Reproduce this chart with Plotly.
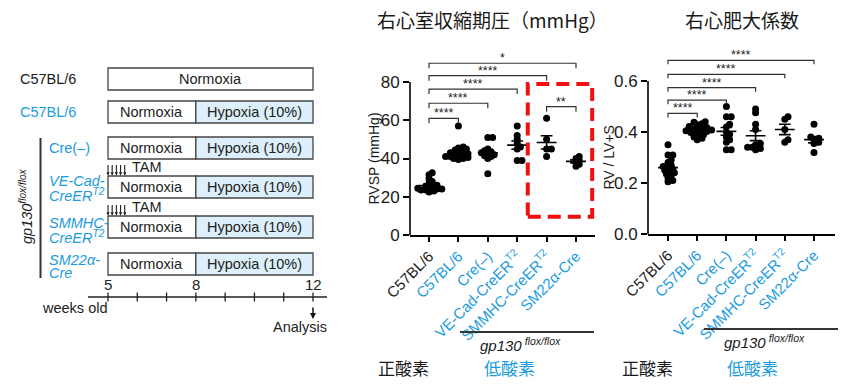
import numpy as np
import plotly.graph_objects as go

W, H = 853, 390
BLUE = "#1A9BE0"
INK = "#1a1a1a"
HYP_FILL = "#DCEFFA"
FONT = "Arial, 'Liberation Sans', sans-serif"
CJK = "'Noto Sans CJK JP', sans-serif"

# ---------------- data ----------------
group_labels = ["C57BL/6", "C57BL/6", "Cre(–)", "VE-Cad-CreER<sup>T2</sup>",
                "SMMHC-CreER<sup>T2</sup>", "SM22α-Cre"]
group_is_hypoxia = [False, True, True, True, True, True]

rvsp_c57_norm = [32.5, 31.5, 29.5, 28, 27, 26, 25.5, 25, 24.5, 24, 24, 23.5, 23.5,
                 23, 22.5, 24.5]
rvsp_c57_hyp = [57, 46, 45.5, 45, 44.5, 44, 43.5, 43, 42.5, 42, 42, 41.5, 41, 41,
                40.5, 40, 40, 39.5]
rvsp_cre_neg = [51, 51, 45, 44, 43.5, 43, 42.5, 42, 41.5, 41, 40, 32]
rvsp_vecad = [57, 52, 50, 48, 46, 45, 39, 39]
rvsp_smmhc = [61, 50, 45, 45, 41]
rvsp_sm22 = [41, 40, 39, 38, 37, 36]

rvlv_c57_norm = [0.35, 0.31, 0.31, 0.29, 0.28, 0.27, 0.265, 0.26, 0.255, 0.25, 0.245,
                 0.24, 0.235, 0.23, 0.22, 0.21, 0.205]
rvlv_c57_hyp = [0.44, 0.438, 0.432, 0.428, 0.422, 0.418, 0.415, 0.412, 0.41, 0.408,
                0.405, 0.402, 0.40, 0.398, 0.395, 0.39, 0.385, 0.38, 0.375, 0.37]
rvlv_cre_neg = [0.50, 0.46, 0.46, 0.43, 0.42, 0.40, 0.39, 0.38, 0.37, 0.36, 0.33, 0.33]
rvlv_vecad = [0.49, 0.475, 0.43, 0.41, 0.355, 0.35, 0.34, 0.335, 0.33, 0.34]
rvlv_smmhc = [0.46, 0.45, 0.41, 0.37, 0.36]
rvlv_sm22 = [0.43, 0.38, 0.375, 0.37, 0.36, 0.355, 0.32]

# significance comparisons: (group a, group b, label)
rvsp_sig = [(0, 1, "****"), (0, 2, "****"), (0, 3, "****"), (0, 4, "****"),
            (0, 5, "*"), (4, 5, "**")]
rvlv_sig = [(0, 1, "****"), (0, 2, "****"), (0, 3, "****"), (0, 4, "****"),
            (0, 5, "****")]

rvsp_ticks = [0, 20, 40, 60, 80]
rvlv_ticks = [0.0, 0.2, 0.4, 0.6]

# schematic data
week_start, week_hypoxia, week_end = 5, 8, 12
timeline_labels = [5, 8, 12]
tam_days = [0, 1, 2, 3, 4]

# ---------------- helpers ----------------
def px(x):
    return x / W


def py(y):
    return 1 - y / H


fig = go.Figure()
shapes = []
annots = []


def note(x, y, text, size=14.5, color=INK, family=FONT, **kw):
    d = dict(x=px(x), y=py(y), xref="paper", yref="paper", text=text,
             showarrow=False, xanchor="center", yanchor="middle",
             font=dict(size=size, color=color, family=family))
    d.update(kw)
    annots.append(d)


def swarm(vals, ppx, ppy, d=3.7, step=1.6):
    placed = []
    res = [0.0] * len(vals)
    order = np.argsort(vals)
    cands = [0.0] + [s * j * step for j in range(1, 30) for s in (1, -1)]
    for i in order:
        ypix = vals[i] * ppy
        for c in cands:
            if all((c - a) ** 2 + (ypix - b) ** 2 >= d * d for a, b in placed):
                break
        placed.append((c, ypix))
        res[i] = c / ppx
    return res


def panel(series, sig, sig_levels, xa, ya, x0px, x1px, first_px, step_px,
          ybot, ytop_px, ytop_val, ymax, ticks, tickfmt, ytitle, ytitle_x,
          drop_px, title, title_x, bottom_line, bottom_text_x, cond_x):
    ppx = step_px
    ppy = (ybot - ytop_px) / ytop_val
    last_px = first_px + 5 * step_px
    xr = [-(first_px - x0px) / ppx, 5 + (x1px - last_px) / ppx]
    top_px = ybot - ymax * ppy
    xs, ys = [], []
    ml_x, ml_y = [], []
    for g, vals in enumerate(series):
        offs = swarm(vals, ppx, ppy)
        xs += [g + o for o in offs]
        ys += list(vals)
        m = float(np.mean(vals))
        se = float(np.std(vals, ddof=1) / np.sqrt(len(vals)))
        ml_x += [g - 0.34, g + 0.34, None, g, g, None,
                 g - 0.2, g + 0.2, None, g - 0.2, g + 0.2, None]
        ml_y += [m, m, None, m - se, m + se, None,
                 m + se, m + se, None, m - se, m - se, None]
    fig.add_trace(go.Scatter(x=xs, y=ys, mode="markers", xaxis=xa, yaxis=ya,
                             marker=dict(size=7, color="black"),
                             showlegend=False, hoverinfo="skip"))
    fig.add_trace(go.Scatter(x=ml_x, y=ml_y, mode="lines", xaxis=xa, yaxis=ya,
                             line=dict(color="black", width=1.6),
                             showlegend=False, hoverinfo="skip"))
    # brackets
    drop = drop_px / ppy
    bx, by = [], []
    for (a, b, lab), h in zip(sig, sig_levels):
        bx += [a, a, b, b, None]
        by += [h - drop, h, h, h - drop, None]
        annots.append(dict(x=(a + b) / 2, y=h, xref=xa, yref=ya, text=lab,
                           showarrow=False, yshift=5, xanchor="center",
                           yanchor="middle",
                           font=dict(size=12.5, color="#222", family=FONT)))
    fig.add_trace(go.Scatter(x=bx, y=by, mode="lines", xaxis=xa, yaxis=ya,
                             line=dict(color="#333", width=1.2),
                             showlegend=False, hoverinfo="skip"))
    # y axis line (stops at top tick)
    shapes.append(dict(type="line", xref=xa + " domain", yref=ya, x0=0, x1=0,
                       y0=0, y1=ticks[-1], line=dict(color="black", width=1.6)))
    ticktext = []
    for lab, hyp in zip(group_labels, group_is_hypoxia):
        ticktext.append(f'<span style="color:{BLUE}">{lab}</span>' if hyp else lab)
    axname = "xaxis" if xa == "x" else "xaxis" + xa[1:]
    ayname = "yaxis" if ya == "y" else "yaxis" + ya[1:]
    fig.layout[axname] = dict(domain=[px(x0px), px(x1px)], range=xr, anchor=ya,
                              showline=True, linecolor="black", linewidth=1.6,
                              ticks="outside", ticklen=5, tickwidth=1.5,
                              tickcolor="black", tickvals=list(range(6)),
                              ticktext=ticktext, tickangle=-45, automargin=False,
                              tickfont=dict(size=15, color=INK, family=FONT),
                              showgrid=False, zeroline=False, fixedrange=True)
    fig.layout[ayname] = dict(domain=[py(ybot), py(top_px)], range=[0, ymax],
                              anchor=xa, showline=False, ticks="outside",
                              ticklen=6, tickwidth=1.5, tickcolor="black",
                              tickvals=ticks, tickformat=tickfmt, automargin=False,
                              tickfont=dict(size=17, color=INK, family=FONT),
                              showgrid=False, zeroline=False, fixedrange=True)
    note(ytitle_x, (ybot + ytop_px) / 2, ytitle, size=14, textangle=-90)
    note(title_x, 19, title, size=19, family=CJK)
    lx0, lx1, ly = bottom_line
    shapes.append(dict(type="line", xref="paper", yref="paper", x0=px(lx0),
                       x1=px(lx1), y0=py(ly), y1=py(ly),
                       line=dict(color="#333", width=1.8)))
    note(bottom_text_x, ly + 12, "<i>gp130</i><sup><i> flox/flox</i></sup>", size=15)
    note(cond_x[0], 367, "正酸素", size=17, family=CJK)
    note(cond_x[1], 367, "低酸素", size=17, color=BLUE, family=CJK)
    return xr


rvsp = [rvsp_c57_norm, rvsp_c57_hyp, rvsp_cre_neg, rvsp_vecad, rvsp_smmhc, rvsp_sm22]
rvlv = [rvlv_c57_norm, rvlv_c57_hyp, rvlv_cre_neg, rvlv_vecad, rvlv_smmhc, rvlv_sm22]

panel(rvsp, rvsp_sig, [61.0, 68.9, 76.3, 83.3, 89.8, 67.1], "x", "y",
      410, 595, 429, 29.4, 235, 82, 80, 100, rvsp_ticks, "d", "RVSP (mmHg)", 373,
      5, "右心室収縮期圧（mmHg）", 492, (460, 594, 332), 520, (403, 509))
panel(rvlv, rvlv_sig, [0.473, 0.525, 0.574, 0.626, 0.681], "x2", "y2",
      648, 835, 668, 29.2, 234, 81, 0.6, 0.75, rvlv_ticks, ".1f", "RV / LV+S", 608,
      4, "右心肥大係数", 742, (704, 838, 329), 764, (647, 752))

# red dashed highlight box around SMMHC / SM22 groups
shapes.append(dict(type="rect", xref="x", yref="y", x0=3.36, x1=5.55, y0=9.6, y1=79,
                   line=dict(color="#F01010", width=4, dash="13px,7px")))

# ---------------- schematic ----------------
X0PX, X1PX = 108, 313
ppw = (X1PX - X0PX) / (week_end - week_start)
fig.layout["xaxis3"] = dict(domain=[0, px(345)],
                            range=[week_start - X0PX / ppw, week_end + (345 - X1PX) / ppw],
                            visible=False, anchor="y3", fixedrange=True, automargin=False)
fig.layout["yaxis3"] = dict(domain=[0, 1], range=[H, 0], visible=False,
                            anchor="x3", fixedrange=True, automargin=False)

row_tops = [68, 101, 137, 176, 216, 253]
BOX_H = 22
BOX_LINE = dict(color="#444", width=1.3)


def box_text(x, y, t):
    annots.append(dict(x=x, y=y, xref="x3", yref="y3", text=t, showarrow=False,
                       xanchor="center", yanchor="middle",
                       font=dict(size=14.5, color="#222", family=FONT)))


for i, top in enumerate(row_tops):
    if i == 0:
        shapes.append(dict(type="rect", xref="x3", yref="y3", x0=week_start,
                           x1=week_end, y0=top, y1=top + BOX_H, line=BOX_LINE,
                           fillcolor="white", layer="below"))
        box_text((week_start + week_end) / 2, top + BOX_H / 2, "Normoxia")
    else:
        shapes.append(dict(type="rect", xref="x3", yref="y3", x0=week_start,
                           x1=week_hypoxia, y0=top, y1=top + BOX_H, line=BOX_LINE,
                           fillcolor="white", layer="below"))
        shapes.append(dict(type="rect", xref="x3", yref="y3", x0=week_hypoxia,
                           x1=week_end, y0=top, y1=top + BOX_H, line=BOX_LINE,
                           fillcolor=HYP_FILL, layer="below"))
        box_text((week_start + week_hypoxia) / 2, top + BOX_H / 2, "Normoxia")
        box_text((week_hypoxia + week_end) / 2, top + BOX_H / 2, "Hypoxia (10%)")

# TAM injections (daily arrows) before the tamoxifen-inducible lines
for r in (3, 4):
    top = row_tops[r]
    for d in tam_days:
        annots.append(dict(x=week_start + d / 7, y=top - 0.5, xref="x3", yref="y3",
                           text="", showarrow=True, ax=0, ay=-12, arrowhead=2,
                           arrowsize=0.6, arrowwidth=1.1, arrowcolor="#222"))
    annots.append(dict(x=week_start + 0.74, y=top - 9, xref="x3", yref="y3",
                       text="TAM", showarrow=False, xanchor="left", yanchor="middle",
                       font=dict(size=14.5, color="#222", family=FONT)))

# row labels
lab_specs = [
    ("C57BL/6", 18, 79, INK),
    ("C57BL/6", 18, 112, BLUE),
    ("Cre(–)", 47, 148, BLUE),
    ("<i>VE-Cad-</i>", 47, 181, BLUE),
    ("<i>CreER<sup>T2</sup></i>", 47, 195, BLUE),
    ("<i>SMMHC-</i>", 47, 223, BLUE),
    ("<i>CreER<sup>T2</sup></i>", 47, 237, BLUE),
    ("<i>SM22α-</i>", 47, 260, BLUE),
    ("<i>Cre</i>", 47, 273, BLUE),
]
for t, x, y, c in lab_specs:
    note(x, y, t, color=c, xanchor="left")
shapes.append(dict(type="line", xref="paper", yref="paper", x0=px(40.5), x1=px(40.5),
                   y0=py(138), y1=py(278), line=dict(color="#333", width=2)))
note(26, 206, "<i>gp130<sup>flox/flox</sup></i>", textangle=-90)

# timeline
TL_Y = 297
shapes.append(dict(type="line", xref="x3", yref="y3",
                   x0=week_start - 20 / ppw, x1=week_end + 14 / ppw,
                   y0=TL_Y, y1=TL_Y, line=dict(color="#222", width=1.5)))
for wk in range(week_start, week_end + 1):
    shapes.append(dict(type="line", xref="x3", yref="y3", x0=wk, x1=wk,
                       y0=TL_Y - 4.5, y1=TL_Y + 4.5, line=dict(color="#222", width=1.3)))
for wk in timeline_labels:
    annots.append(dict(x=wk, y=284, xref="x3", yref="y3", text=str(wk),
                       showarrow=False, xanchor="center", yanchor="middle",
                       font=dict(size=15, color="#222", family=FONT)))
note(74, 308, "weeks old", color="#222")
annots.append(dict(x=week_end, y=319, xref="x3", yref="y3", text="", showarrow=True,
                   ax=0, ay=-13, arrowhead=2, arrowsize=0.8, arrowwidth=1.5,
                   arrowcolor="#111"))
note(300, 327, "Analysis", color="#222")

fig.update_layout(template="none", width=W, height=H,
                  margin=dict(l=0, r=0, t=0, b=0, autoexpand=False),
                  paper_bgcolor="white", plot_bgcolor="rgba(0,0,0,0)",
                  shapes=shapes, annotations=annots, showlegend=False,
                  font=dict(family=FONT, color=INK))
fig.write_html("out.html", config={"displayModeBar": False},
               post_script="document.body.style.margin='0';"
                           "document.body.style.overflow='hidden';")
